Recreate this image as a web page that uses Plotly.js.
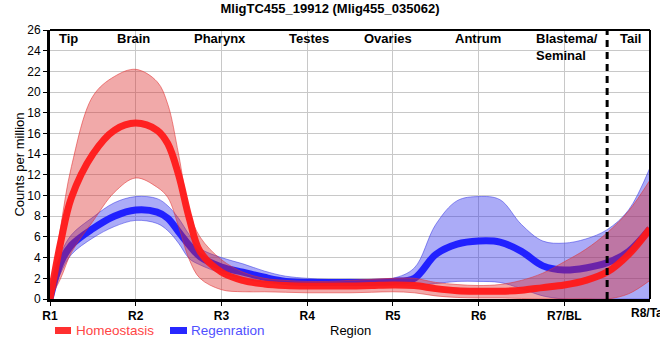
<!DOCTYPE html>
<html>
<head>
<meta charset="utf-8">
<script src="https://cdn.plot.ly/plotly-3.0.1.min.js"></script>
<style>html,body{margin:0;padding:0;background:#fff;}#chart{width:660px;height:360px;}</style>
</head>
<body>
<div id="chart"></div>
<script>
// Region positions (0 = R1 ... 7 = R8) and tick labels
const tickPos = [0, 1, 2, 3, 4, 5, 6, 7];
const tickLabels = ['R1', 'R2', 'R3', 'R4', 'R5', 'R6', 'R7/BL', 'R8/Tail'];

// Sample positions along the body axis
const xs = [0, 0.125, 0.25, 0.5, 0.75, 1, 1.25, 1.375, 1.5, 1.625, 1.75, 2, 2.25, 2.5, 2.75, 3, 3.25, 3.5, 3.75, 4, 4.25, 4.5, 4.75, 5, 5.25, 5.5, 5.75, 6, 6.25, 6.5, 6.75, 7];

// Homeostasis (red)
const homMean  = [0, 5.5, 9.8, 14.0, 16.3, 17.0, 16.3, 15.0, 12.0, 7.8, 4.6, 2.6, 1.8, 1.45, 1.3, 1.25, 1.25, 1.25, 1.3, 1.35, 1.3, 1.0, 0.8, 0.75, 0.75, 0.85, 1.1, 1.35, 1.8, 2.6, 4.3, 6.8];
const homUpper = [0, 7.0, 12.8, 19.6, 21.5, 22.2, 21.0, 18.8, 14.0, 8.5, 6.0, 3.8, 2.6, 2.0, 1.8, 1.7, 1.7, 1.8, 1.9, 2.0, 2.0, 1.6, 1.4, 1.3, 1.4, 1.8, 2.5, 3.6, 4.8, 6.4, 8.5, 11.5];
const homLower = [0, 2.0, 4.5, 7.5, 10.3, 11.7, 10.8, 9.8, 7.0, 3.8, 2.0, 0.9, 0.7, 0.7, 0.65, 0.6, 0.6, 0.6, 0.65, 0.7, 0.6, 0.3, 0.15, 0.1, 0.1, 0.05, 0, 0, 0, 0, 0.5, 1.8];

// Regeneration (blue)
const regMean  = [0, 3.5, 5.2, 6.8, 8.0, 8.6, 8.4, 7.8, 6.5, 5.2, 4.1, 3.1, 2.6, 2.1, 1.7, 1.6, 1.6, 1.6, 1.6, 1.7, 2.0, 4.3, 5.3, 5.6, 5.5, 4.6, 3.2, 2.8, 3.0, 3.5, 4.6, 6.8];
const regUpper = [0, 4.3, 6.2, 7.9, 9.3, 9.9, 9.7, 9.0, 7.8, 6.2, 4.9, 4.0, 3.4, 2.7, 2.2, 2.0, 1.9, 1.9, 1.9, 2.0, 3.0, 7.2, 9.5, 9.9, 9.6, 7.2, 5.6, 5.4, 5.8, 6.7, 8.6, 12.7];
const regLower = [0, 2.5, 4.3, 5.9, 7.0, 7.6, 7.3, 6.6, 5.4, 3.9, 3.3, 2.5, 2.0, 1.6, 1.4, 1.3, 1.3, 1.3, 1.3, 1.3, 1.3, 1.5, 1.7, 1.7, 1.6, 1.0, 0.3, 0, 0, 0, 0, 0];

// Tissue labels along the top
const tissueNames = ['Tip', 'Brain', 'Pharynx', 'Testes', 'Ovaries', 'Antrum', 'Blastema/<br>Seminal', 'Tail'];
const tissuePos   = [0.22, 0.97, 1.98, 3.02, 3.94, 4.99, 5.65, 6.77];
const tailBoundary = 6.5;

const seriesNames = ['Homeostasis', 'Regenration'];

const FONT = 'Liberation Sans, Arial, sans-serif';
const sp = {shape: 'spline', smoothing: 1};

const traces = [
  {x: xs, y: regLower, mode: 'lines', line: Object.assign({color: 'rgba(60,60,230,0.55)', width: 1}, sp), showlegend: false, hoverinfo: 'skip'},
  {x: xs, y: regUpper, mode: 'lines', fill: 'tonexty', fillcolor: 'rgba(45,45,235,0.40)', line: Object.assign({color: 'rgba(60,60,230,0.55)', width: 1}, sp), showlegend: false, hoverinfo: 'skip'},
  {x: xs, y: regMean, mode: 'lines', name: seriesNames[1], line: Object.assign({color: 'rgba(25,25,255,0.95)', width: 7}, sp), showlegend: false},
  {x: xs, y: homLower, mode: 'lines', line: Object.assign({color: 'rgba(225,50,50,0.55)', width: 1}, sp), showlegend: false, hoverinfo: 'skip'},
  {x: xs, y: homUpper, mode: 'lines', fill: 'tonexty', fillcolor: 'rgba(220,40,40,0.40)', line: Object.assign({color: 'rgba(225,50,50,0.55)', width: 1}, sp), showlegend: false, hoverinfo: 'skip'},
  {x: xs, y: homMean, mode: 'lines', name: seriesNames[0], line: Object.assign({color: 'rgba(255,25,25,0.95)', width: 7}, sp), showlegend: false}
];

const annotations = tissueNames.map((t, i) => {
  const multi = t.indexOf('<br>') >= 0;
  return {
    x: tissuePos[i], y: multi ? 26 : 25.2, xref: 'x', yref: 'y',
    text: '<b>' + t + '</b>', showarrow: false,
    xanchor: multi ? 'left' : 'center', yanchor: multi ? 'top' : 'middle',
    align: 'left', yshift: multi ? 1 : 0,
    font: {family: FONT, size: 13, color: '#000'}
  };
});
// last tick label (runs off the canvas edge as in the original)
annotations.push({x: tickPos[7], y: 0, xref: 'x', yref: 'paper', yanchor: 'top', xanchor: 'center', yshift: -5, showarrow: false,
  text: '<b>' + tickLabels[7] + '</b>', font: {family: FONT, size: 12, color: '#000'}});
// axis title "Region"
annotations.push({x: 0.5, y: -31 / 269, xref: 'paper', yref: 'paper', yanchor: 'middle', showarrow: false,
  text: 'Region', font: {family: FONT, size: 13, color: '#000'}});
// manual legend text
annotations.push({x: 24 / 600, y: -31 / 269, xref: 'paper', yref: 'paper', xanchor: 'left', yanchor: 'middle', showarrow: false,
  text: seriesNames[0], font: {family: FONT, size: 13.5, color: '#ff4545'}});
annotations.push({x: 139 / 600, y: -31 / 269, xref: 'paper', yref: 'paper', xanchor: 'left', yanchor: 'middle', showarrow: false,
  text: seriesNames[1], font: {family: FONT, size: 13.5, color: '#5050ff'}});

const shapes = [
  {type: 'line', xref: 'x', yref: 'paper', x0: tailBoundary, x1: tailBoundary, y0: 0, y1: 1, line: {color: '#000', width: 3, dash: '7px,5px'}},
  {type: 'line', xref: 'paper', yref: 'paper', x0: 0, x1: 1, y0: 1, y1: 1, line: {color: '#000', width: 2}},
  {type: 'line', xref: 'paper', yref: 'paper', x0: 1, x1: 1, y0: 0, y1: 1, line: {color: '#000', width: 2}},
  {type: 'rect', xref: 'paper', yref: 'paper', x0: 5 / 600, x1: 21 / 600, y0: -28 / 269, y1: -35 / 269, line: {width: 0}, fillcolor: '#ff3030'},
  {type: 'rect', xref: 'paper', yref: 'paper', x0: 120 / 600, x1: 137 / 600, y0: -28 / 269, y1: -35 / 269, line: {width: 0}, fillcolor: '#2828ff'}
];

const layout = {
  width: 660, height: 360,
  margin: {l: 50, r: 10, t: 30, b: 61, pad: 0},
  paper_bgcolor: '#fff', plot_bgcolor: '#fff',
  showlegend: false,
  title: {text: '<b>MligTC455_19912 (Mlig455_035062)</b>', x: 0.5, xref: 'container', y: 1 - 8 / 360, yref: 'container', yanchor: 'middle', font: {family: FONT, size: 13, color: '#000'}},
  xaxis: {
    range: [0, 7], tickvals: tickPos.slice(0, 7), ticktext: tickLabels.slice(0, 7).map(t => '<b>' + t + '</b>'),
    showgrid: true, gridcolor: '#c8c8c8', gridwidth: 1, zeroline: false,
    showline: true, linecolor: '#000', linewidth: 3,
    ticks: 'outside', ticklen: 4, tickwidth: 1, tickcolor: '#000',
    tickfont: {family: FONT, size: 12, color: '#000'}, fixedrange: true
  },
  yaxis: {
    range: [0, 26], dtick: 2, tick0: 0,
    showgrid: true, gridcolor: '#c8c8c8', gridwidth: 1, zeroline: false,
    showline: true, linecolor: '#000', linewidth: 3,
    ticks: 'outside', ticklen: 4, tickwidth: 1, tickcolor: '#000',
    tickfont: {family: FONT, size: 12, color: '#000'},
    title: {text: 'Counts per million', font: {family: FONT, size: 13, color: '#000'}, standoff: 0}, fixedrange: true
  },
  annotations: annotations,
  shapes: shapes
};

Plotly.newPlot('chart', traces, layout, {displayModeBar: false, staticPlot: true});
</script>
</body>
</html>
